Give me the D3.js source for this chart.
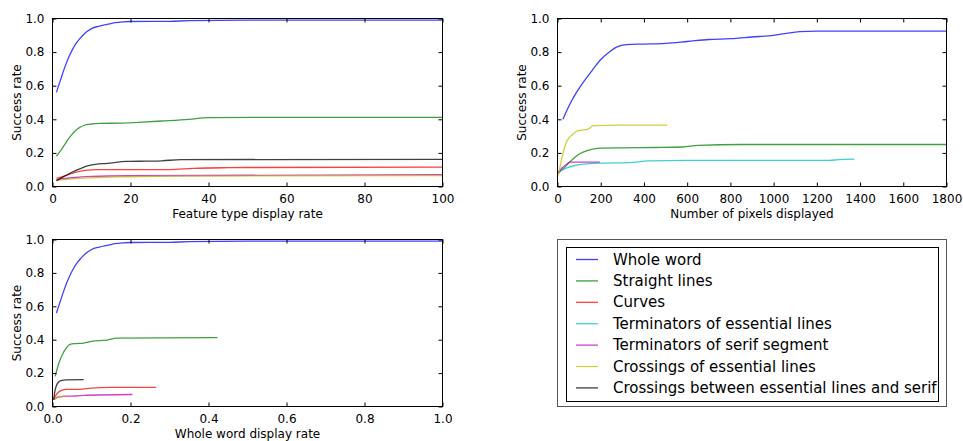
<!DOCTYPE html>
<html><head><meta charset="utf-8">
<script src="https://cdn.jsdelivr.net/npm/d3@7"></script>
<style>
html,body{margin:0;padding:0;background:#fff;}
svg{display:block;font-family:"DejaVu Sans",sans-serif;}
</style></head>
<body>
<svg id="chart" width="963" height="441"></svg>
<script>
// ---- data ----
const seriesNames = ["Whole word","Straight lines","Curves","Terminators of essential lines","Terminators of serif segment","Crossings of essential lines","Crossings between essential lines and serif"];
const seriesColors = ["#0000ff","#008000","#ff0000","#00bfbf","#bf00bf","#bfbf00","#000000"];

// Panel 1: Feature type display rate
const ftWhole = [[1,0.56],[2,0.63],[3,0.70],[4,0.76],[5,0.81],[6,0.85],[7,0.88],[8,0.905],[9,0.925],[10,0.94],[12,0.955],[14,0.965],[16,0.975],[18,0.98],[20,0.982],[30,0.983],[35,0.987],[50,0.99],[100,0.99]];
const ftStraight = [[1,0.18],[2,0.21],[3,0.245],[4,0.28],[5,0.31],[6,0.335],[7,0.352],[8,0.363],[10,0.372],[12,0.376],[18,0.377],[22,0.382],[28,0.39],[35,0.4],[40,0.41],[60,0.412],[100,0.412]];
const ftCurves = [[1,0.048],[3,0.062],[5,0.078],[7,0.09],[9,0.097],[11,0.1],[30,0.101],[36,0.108],[45,0.112],[50,0.113],[100,0.115]];
const ftSerifTerm = [[1,0.04],[5,0.052],[10,0.06],[20,0.064],[100,0.071]];
const ftCrossEss = [[1,0.035],[5,0.045],[10,0.052],[20,0.058],[30,0.062],[100,0.065]];
const ftCrossSerif = [[1,0.035],[3,0.06],[5,0.085],[7,0.105],[9,0.123],[11,0.132],[14,0.138],[19,0.149],[24,0.151],[28,0.153],[33,0.16],[100,0.162]];

// Panel 2: Number of pixels displayed
const pxWhole = [[25,0.40],[57,0.49],[88,0.56],[119,0.62],[160,0.69],[196,0.75],[240,0.80],[273,0.83],[320,0.845],[400,0.848],[500,0.852],[600,0.863],[700,0.875],[800,0.88],[900,0.89],[1000,0.9],[1060,0.912],[1120,0.922],[1200,0.925],[1800,0.925]];
const pxStraight = [[3,0.08],[30,0.11],[60,0.15],[103,0.195],[140,0.215],[196,0.228],[300,0.23],[450,0.232],[580,0.235],[650,0.245],[850,0.25],[1800,0.25]];
const pxEssTerm = [[3,0.088],[40,0.11],[80,0.125],[120,0.133],[196,0.139],[330,0.142],[420,0.152],[600,0.155],[1260,0.155],[1300,0.16],[1374,0.163]];
const pxSerifTerm = [[3,0.08],[20,0.11],[40,0.13],[57,0.145],[196,0.145]];
const pxCrossEss = [[5,0.066],[15,0.14],[26,0.2],[40,0.26],[57,0.295],[75,0.315],[90,0.33],[110,0.335],[142,0.342],[165,0.362],[300,0.365],[508,0.365]];

// Panel 3: Whole word display rate
const wwWhole = [[0.01,0.56],[0.02,0.63],[0.03,0.70],[0.04,0.76],[0.05,0.81],[0.06,0.85],[0.07,0.88],[0.08,0.905],[0.09,0.925],[0.1,0.94],[0.12,0.955],[0.14,0.965],[0.16,0.975],[0.18,0.98],[0.2,0.982],[0.3,0.983],[0.35,0.987],[0.5,0.99],[1.0,0.99]];
const wwStraight = [[0.007,0.18],[0.015,0.25],[0.025,0.31],[0.035,0.35],[0.045,0.372],[0.06,0.377],[0.08,0.38],[0.1,0.39],[0.14,0.398],[0.165,0.41],[0.423,0.412]];
const wwCurves = [[0.003,0.045],[0.008,0.065],[0.015,0.085],[0.025,0.098],[0.035,0.102],[0.07,0.103],[0.1,0.11],[0.15,0.114],[0.266,0.115]];
const wwSerifTerm = [[0.003,0.04],[0.01,0.052],[0.02,0.058],[0.04,0.062],[0.06,0.063],[0.08,0.067],[0.205,0.072]];
const wwCrossEss = [[0.003,0.04],[0.01,0.055],[0.02,0.06],[0.033,0.063]];
const wwCrossSerif = [[0.003,0.04],[0.006,0.09],[0.01,0.125],[0.015,0.145],[0.022,0.155],[0.035,0.16],[0.08,0.161]];

const yTicks = [0,0.2,0.4,0.6,0.8,1.0];
const ftTicks = [0,20,40,60,80,100];
const pxTicks = [0,200,400,600,800,1000,1200,1400,1600,1800];
const wwTicks = [0,0.2,0.4,0.6,0.8,1.0];

// ---- layout ----
const svg = d3.select("#chart");
const panels = [
  {x0:52.5, x1:442.5, y0:18.5, y1:186.5, xdom:[0,100], xticks:ftTicks, xfmt:d3.format("d"), xlabel:"Feature type display rate",
   series:[[0,ftWhole],[1,ftStraight],[2,ftCurves],[4,ftSerifTerm],[5,ftCrossEss],[6,ftCrossSerif]], ylabX:17},
  {x0:557.5, x1:946.5, y0:18.5, y1:186.5, xdom:[0,1800], xticks:pxTicks, xfmt:d3.format("d"), xlabel:"Number of pixels displayed",
   series:[[0,pxWhole],[1,pxStraight],[3,pxEssTerm],[4,pxSerifTerm],[5,pxCrossEss]], ylabX:522},
  {x0:52.5, x1:442.5, y0:239.5, y1:406.5, xdom:[0,1], xticks:wwTicks, xfmt:d3.format(".1f"), xlabel:"Whole word display rate",
   series:[[0,wwWhole],[1,wwStraight],[2,wwCurves],[4,wwSerifTerm],[5,wwCrossEss],[6,wwCrossSerif]], ylabX:17}
];

panels.forEach(p => {
  const x = d3.scaleLinear().domain(p.xdom).range([p.x0, p.x1]);
  const y = d3.scaleLinear().domain([0,1]).range([p.y1, p.y0]);
  const g = svg.append("g");
  const clipId = "clip" + Math.round(p.x0) + Math.round(p.y0);
  g.append("clipPath").attr("id", clipId).append("rect")
    .attr("x", p.x0).attr("y", p.y0).attr("width", p.x1-p.x0).attr("height", p.y1-p.y0);

  const line = d3.line().x(d => x(d[0])).y(d => y(d[1])).curve(d3.curveMonotoneX);
  p.series.forEach(([si, data]) => {
    g.append("path").attr("d", line(data)).attr("fill","none")
      .attr("stroke", seriesColors[si]).attr("stroke-opacity",0.75).attr("stroke-width",1.3)
      .attr("clip-path", `url(#${clipId})`);
  });

  const ax = (gen, tx, ty) => g.append("g").attr("transform",`translate(${tx},${ty})`).call(gen)
    .call(s => s.select(".domain").remove());
  const bottom = ax(d3.axisBottom(x).tickValues(p.xticks).tickFormat(p.xfmt).tickSizeInner(-4).tickSizeOuter(0).tickPadding(8), 0, p.y1);
  const top = ax(d3.axisTop(x).tickValues(p.xticks).tickFormat("").tickSizeInner(-4).tickSizeOuter(0), 0, p.y0);
  const left = ax(d3.axisLeft(y).tickValues(yTicks).tickFormat(d3.format(".1f")).tickSizeInner(-4).tickSizeOuter(0).tickPadding(8), p.x0, 0);
  const right = ax(d3.axisRight(y).tickValues(yTicks).tickFormat("").tickSizeInner(-4).tickSizeOuter(0), p.x1, 0);
  [bottom, top, left, right].forEach(a => {
    a.selectAll("text").attr("font-size", 12).attr("fill","#000").attr("font-family","DejaVu Sans");
    a.selectAll("line").attr("stroke","#000");
  });
  g.append("rect").attr("x",p.x0).attr("y",p.y0).attr("width",p.x1-p.x0).attr("height",p.y1-p.y0)
    .attr("fill","none").attr("stroke","#000").attr("stroke-width",1);

  g.append("text").attr("x",(p.x0+p.x1)/2).attr("y",p.y1+31).attr("text-anchor","middle")
    .attr("font-size",12).text(p.xlabel);
  g.append("text").attr("transform",`translate(${p.ylabX},${(p.y0+p.y1)/2}) rotate(-90)`)
    .attr("text-anchor","middle").attr("dominant-baseline","middle").attr("font-size",12).text("Success rate");
});

// ---- legend ----
const lg = svg.append("g");
lg.append("rect").attr("x",557.5).attr("y",239.5).attr("width",389).attr("height",167)
  .attr("fill","none").attr("stroke","#555").attr("stroke-width",1);
lg.append("rect").attr("x",566.5).attr("y",247.5).attr("width",372).attr("height",154)
  .attr("fill","#fff").attr("stroke","#000").attr("stroke-width",1);
seriesNames.forEach((name, i) => {
  const cy = 259.5 + i*21.4;
  lg.append("line").attr("x1",576).attr("x2",598).attr("y1",cy).attr("y2",cy)
    .attr("stroke",seriesColors[i]).attr("stroke-opacity",0.75).attr("stroke-width",1.3);
  lg.append("text").attr("x",613).attr("y",cy).attr("dominant-baseline","central")
    .attr("font-size",15).text(name);
});
</script>
</body></html>
